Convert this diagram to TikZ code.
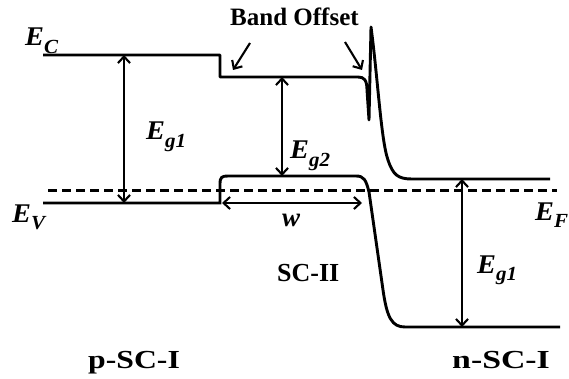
\documentclass[tikz,border=0pt]{standalone}
\usepackage{fontspec}
\setmainfont{Liberation Serif}
\usetikzlibrary{arrows.meta}
\newcommand\Elab[2]{\scalebox{#1}[1]{\textbf{\textit{E}}\raisebox{-0.28em}{\fontsize{20}{20}\selectfont\textbf{\textit{#2}}}}}
\newcommand\Tlab[2]{\scalebox{#1}[1]{\textbf{#2}}}
\begin{document}
\begin{tikzpicture}[x=1pt,y=-1pt,
  band/.style={line width=2.9pt},
  dbl/.style={line width=2.1pt,{Straight Barb[length=6.5pt,width=12pt]}-{Straight Barb[length=6.5pt,width=12pt]}},
  sgl/.style={line width=2.1pt,-{Straight Barb[length=6.5pt,width=12pt]}},
  lbl/.style={inner sep=0pt,anchor=base west,font=\fontsize{26}{26}\selectfont},
  elbl/.style={inner sep=0pt,anchor=base west,font=\fontsize{27}{27}\selectfont}]
\useasboundingbox (0,0) rectangle (569,379);
% Fermi level
\coordinate (fL) at (48,190.5);
\coordinate (fR) at (557,190.5);
\draw[line width=2.2pt,dash pattern=on 9pt off 5pt] (fL) -- (fR);
% conduction band
\draw[band,line join=round] (43,55) -- (220,55) -- (220,77) -- (358,77)
  .. controls (364,77) and (367,80) .. (367,90) -- (369,120) -- (371,27)
  .. controls (378,80) and (381,140) .. (388,160)
  .. controls (393,175) and (398,179) .. (412,179) -- (550,179);
% valence band
\draw[band] (43,203) -- (220,203) -- (220,184)
  .. controls (220,177) and (222,176) .. (228,176) -- (356,176)
  .. controls (364,176) and (366,180) .. (369,192) -- (383,290)
  .. controls (387,318) and (392,327) .. (405,327) -- (560,327);
% arrows
\coordinate (a1t) at (124,55);  \coordinate (a1b) at (124,203);
\coordinate (a2t) at (282,77);  \coordinate (a2b) at (282,176);
\coordinate (wl) at (222,203);  \coordinate (wr) at (362,203);
\coordinate (a3t) at (462,179); \coordinate (a3b) at (462,327);
\coordinate (b1s) at (250,43);  \coordinate (b1e) at (233,70);
\coordinate (b2s) at (345,42);  \coordinate (b2e) at (362,70);
\draw[dbl] (a1t) -- (a1b);
\draw[dbl] (a2t) -- (a2b);
\draw[dbl] (wl) -- (wr);
\draw[dbl] (a3t) -- (a3b);
\draw[sgl] (b1s) -- (b1e);
\draw[sgl] (b2s) -- (b2e);
% labels
\node[elbl] (EC) at (25,46) {\Elab{1.05}{C}};
\node[elbl] (EV) at (12,222) {\Elab{1.05}{V}};
\node[elbl] (EF) at (535,220) {\Elab{1.05}{F}};
\node[elbl] (Eg1l) at (146,140) {\Elab{1.05}{g1}};
\node[elbl] (Eg2) at (290,159) {\Elab{1.05}{g2}};
\node[elbl] (Eg1r) at (477,273) {\Elab{1.05}{g1}};
\node[elbl] (w) at (282,226) {\textbf{\textit{w}}};
\node[lbl,font=\fontsize{25}{25}\selectfont] (BO) at (230,26) {\Tlab{1.0}{Band Offset}};
\node[lbl] (SC2) at (277,281) {\Tlab{1.0}{SC-II}};
\node[lbl] (p) at (88,368) {\Tlab{1.22}{p-SC-I}};
\node[lbl] (n) at (452,368) {\Tlab{1.3}{n-SC-I}};
\end{tikzpicture}
\end{document}
